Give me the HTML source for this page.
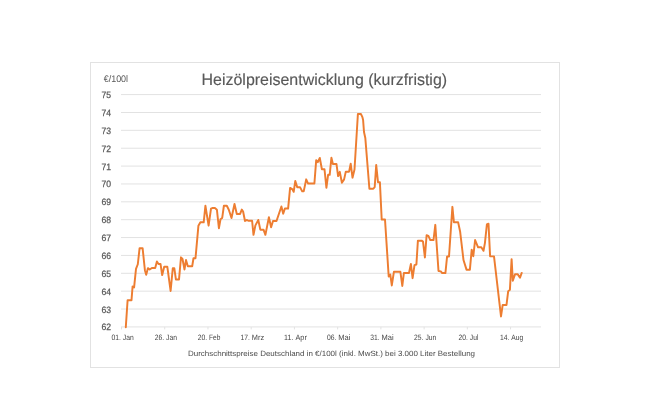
<!DOCTYPE html>
<html><head><meta charset="utf-8"><style>
html,body{margin:0;padding:0;background:#fff;width:650px;height:416px;overflow:hidden}
svg{display:block;filter:blur(0.35px)}
text{font-family:"Liberation Sans",sans-serif;fill:#595959;text-rendering:geometricPrecision}
.yl{font-size:9.2px;stroke:#595959;stroke-width:0.25px}
.xl{font-size:7.8px;fill:#454545}
</style></head><body>
<svg width="650" height="416" viewBox="0 0 650 416">
<rect x="90.5" y="62.5" width="469" height="305" fill="#fff" stroke="#e2e2e2" stroke-width="1"/>
<line x1="121" y1="94.60" x2="541" y2="94.60" stroke="#e2e2e2" stroke-width="1"/><line x1="121" y1="112.47" x2="541" y2="112.47" stroke="#e2e2e2" stroke-width="1"/><line x1="121" y1="130.34" x2="541" y2="130.34" stroke="#e2e2e2" stroke-width="1"/><line x1="121" y1="148.21" x2="541" y2="148.21" stroke="#e2e2e2" stroke-width="1"/><line x1="121" y1="166.08" x2="541" y2="166.08" stroke="#e2e2e2" stroke-width="1"/><line x1="121" y1="183.95" x2="541" y2="183.95" stroke="#e2e2e2" stroke-width="1"/><line x1="121" y1="201.82" x2="541" y2="201.82" stroke="#e2e2e2" stroke-width="1"/><line x1="121" y1="219.69" x2="541" y2="219.69" stroke="#e2e2e2" stroke-width="1"/><line x1="121" y1="237.56" x2="541" y2="237.56" stroke="#e2e2e2" stroke-width="1"/><line x1="121" y1="255.43" x2="541" y2="255.43" stroke="#e2e2e2" stroke-width="1"/><line x1="121" y1="273.30" x2="541" y2="273.30" stroke="#e2e2e2" stroke-width="1"/><line x1="121" y1="291.17" x2="541" y2="291.17" stroke="#e2e2e2" stroke-width="1"/><line x1="121" y1="309.04" x2="541" y2="309.04" stroke="#e2e2e2" stroke-width="1"/>
<line x1="121" y1="326.91" x2="541" y2="326.91" stroke="#e2e2e2" stroke-width="1"/>
<line x1="121.50" y1="326.91" x2="121.50" y2="329.41" stroke="#e2e2e2" stroke-width="1"/><line x1="164.73" y1="326.91" x2="164.73" y2="329.41" stroke="#e2e2e2" stroke-width="1"/><line x1="207.96" y1="326.91" x2="207.96" y2="329.41" stroke="#e2e2e2" stroke-width="1"/><line x1="251.19" y1="326.91" x2="251.19" y2="329.41" stroke="#e2e2e2" stroke-width="1"/><line x1="294.42" y1="326.91" x2="294.42" y2="329.41" stroke="#e2e2e2" stroke-width="1"/><line x1="337.65" y1="326.91" x2="337.65" y2="329.41" stroke="#e2e2e2" stroke-width="1"/><line x1="380.88" y1="326.91" x2="380.88" y2="329.41" stroke="#e2e2e2" stroke-width="1"/><line x1="424.11" y1="326.91" x2="424.11" y2="329.41" stroke="#e2e2e2" stroke-width="1"/><line x1="467.34" y1="326.91" x2="467.34" y2="329.41" stroke="#e2e2e2" stroke-width="1"/><line x1="510.57" y1="326.91" x2="510.57" y2="329.41" stroke="#e2e2e2" stroke-width="1"/>
<text x="201.6" y="85.1" font-size="16.2" stroke="#595959" stroke-width="0.15" textLength="245.5" lengthAdjust="spacingAndGlyphs">Heizölpreisentwicklung (kurzfristig)</text>
<text x="103.7" y="81.8" font-size="9.6" textLength="24.4" lengthAdjust="spacingAndGlyphs">€/100l</text>
<text x="101.4" y="98.10" textLength="9.6" lengthAdjust="spacingAndGlyphs" class="yl">75</text><text x="101.4" y="115.97" textLength="9.6" lengthAdjust="spacingAndGlyphs" class="yl">74</text><text x="101.4" y="133.84" textLength="9.6" lengthAdjust="spacingAndGlyphs" class="yl">73</text><text x="101.4" y="151.71" textLength="9.6" lengthAdjust="spacingAndGlyphs" class="yl">72</text><text x="101.4" y="169.58" textLength="9.6" lengthAdjust="spacingAndGlyphs" class="yl">71</text><text x="101.4" y="187.45" textLength="9.6" lengthAdjust="spacingAndGlyphs" class="yl">70</text><text x="101.4" y="205.32" textLength="9.6" lengthAdjust="spacingAndGlyphs" class="yl">69</text><text x="101.4" y="223.19" textLength="9.6" lengthAdjust="spacingAndGlyphs" class="yl">68</text><text x="101.4" y="241.06" textLength="9.6" lengthAdjust="spacingAndGlyphs" class="yl">67</text><text x="101.4" y="258.93" textLength="9.6" lengthAdjust="spacingAndGlyphs" class="yl">66</text><text x="101.4" y="276.80" textLength="9.6" lengthAdjust="spacingAndGlyphs" class="yl">65</text><text x="101.4" y="294.67" textLength="9.6" lengthAdjust="spacingAndGlyphs" class="yl">64</text><text x="101.4" y="312.54" textLength="9.6" lengthAdjust="spacingAndGlyphs" class="yl">63</text><text x="101.4" y="330.41" textLength="9.6" lengthAdjust="spacingAndGlyphs" class="yl">62</text>
<text x="111.40" y="339.6" textLength="9.4" lengthAdjust="spacingAndGlyphs" class="xl">01.</text><text x="122.80" y="339.6" textLength="10.9" lengthAdjust="spacingAndGlyphs" class="xl">Jan</text><text x="154.63" y="339.6" textLength="9.4" lengthAdjust="spacingAndGlyphs" class="xl">26.</text><text x="166.03" y="339.6" textLength="10.9" lengthAdjust="spacingAndGlyphs" class="xl">Jan</text><text x="197.66" y="339.6" textLength="9.4" lengthAdjust="spacingAndGlyphs" class="xl">20.</text><text x="209.06" y="339.6" textLength="11.3" lengthAdjust="spacingAndGlyphs" class="xl">Feb</text><text x="240.39" y="339.6" textLength="9.4" lengthAdjust="spacingAndGlyphs" class="xl">17.</text><text x="251.79" y="339.6" textLength="12.3" lengthAdjust="spacingAndGlyphs" class="xl">Mrz</text><text x="284.12" y="339.6" textLength="9.4" lengthAdjust="spacingAndGlyphs" class="xl">11.</text><text x="295.52" y="339.6" textLength="11.3" lengthAdjust="spacingAndGlyphs" class="xl">Apr</text><text x="326.95" y="339.6" textLength="9.4" lengthAdjust="spacingAndGlyphs" class="xl">06.</text><text x="338.35" y="339.6" textLength="12.1" lengthAdjust="spacingAndGlyphs" class="xl">Mai</text><text x="370.18" y="339.6" textLength="9.4" lengthAdjust="spacingAndGlyphs" class="xl">31.</text><text x="381.58" y="339.6" textLength="12.1" lengthAdjust="spacingAndGlyphs" class="xl">Mai</text><text x="414.01" y="339.6" textLength="9.4" lengthAdjust="spacingAndGlyphs" class="xl">25.</text><text x="425.41" y="339.6" textLength="10.9" lengthAdjust="spacingAndGlyphs" class="xl">Jun</text><text x="458.44" y="339.6" textLength="9.4" lengthAdjust="spacingAndGlyphs" class="xl">20.</text><text x="469.84" y="339.6" textLength="8.5" lengthAdjust="spacingAndGlyphs" class="xl">Jul</text><text x="499.97" y="339.6" textLength="9.4" lengthAdjust="spacingAndGlyphs" class="xl">14.</text><text x="511.37" y="339.6" textLength="11.9" lengthAdjust="spacingAndGlyphs" class="xl">Aug</text>
<text x="188" y="355.8" font-size="7.6" style="fill:#4a4a4a" textLength="287" lengthAdjust="spacingAndGlyphs">Durchschnittspreise Deutschland in €/100l (inkl. MwSt.) bei 3.000 Liter Bestellung</text>
<path d="M125.7 326.8 L127.5 299.8 L131.4 299.8 L132.5 286.0 L134.0 287.0 L135.9 268.4 L137.7 263.8 L139.5 247.7 L142.5 247.7 L144.8 269.7 L146.1 274.3 L147.8 267.7 L149.6 269.0 L151.8 267.5 L155.1 267.5 L156.8 261.1 L158.4 263.5 L160.4 263.5 L162.1 274.6 L164.1 266.2 L167.2 266.2 L170.5 290.5 L172.7 267.7 L174.2 267.7 L175.8 279.0 L178.9 279.0 L180.9 256.9 L182.4 258.5 L184.4 269.0 L185.9 259.6 L187.7 265.8 L192.1 265.8 L193.4 257.8 L195.4 257.8 L198.3 225.4 L200.3 221.9 L203.6 221.9 L205.3 205.3 L208.5 225.2 L210.9 208.2 L212.2 207.6 L214.8 207.6 L216.8 209.3 L218.8 227.8 L220.4 218.8 L222.1 217.5 L223.8 205.3 L226.7 205.3 L228.7 209.3 L231.4 217.5 L234.4 203.6 L236.7 213.5 L240.0 213.5 L241.7 209.1 L243.0 211.0 L244.9 220.6 L246.6 219.5 L248.2 220.3 L252.0 220.3 L253.4 234.4 L255.3 224.9 L258.2 219.5 L260.2 229.2 L263.4 229.2 L265.3 234.4 L268.8 216.8 L271.0 226.8 L272.9 220.6 L276.4 220.6 L281.3 206.0 L283.1 213.2 L284.8 208.1 L288.0 208.1 L290.0 187.5 L292.4 189.0 L293.6 191.4 L295.2 180.5 L297.1 186.7 L299.9 186.7 L302.1 190.9 L303.6 190.9 L306.1 178.9 L308.0 183.1 L314.3 183.1 L316.1 159.7 L317.7 161.7 L319.7 157.5 L321.8 168.8 L324.4 168.8 L326.3 187.3 L328.0 174.4 L329.6 174.4 L331.3 157.3 L332.8 163.6 L336.4 163.6 L338.0 175.6 L339.7 171.4 L341.8 182.3 L344.0 178.9 L345.7 171.2 L349.0 171.2 L350.6 163.3 L352.4 177.2 L354.4 169.0 L357.8 113.6 L360.8 113.6 L362.2 116.4 L363.0 119.6 L363.9 131.5 L365.2 137.5 L369.3 188.3 L373.2 188.3 L374.6 186.6 L376.1 164.5 L377.9 181.7 L379.8 181.7 L381.6 219.1 L384.9 219.1 L388.6 276.1 L390.2 274.1 L391.7 285.0 L393.8 271.4 L400.3 271.4 L402.2 285.5 L403.8 272.5 L408.9 272.5 L410.8 263.6 L412.5 277.7 L414.4 264.7 L416.3 264.1 L417.8 240.2 L421.5 240.2 L422.9 241.2 L424.8 257.0 L426.5 234.8 L428.3 235.4 L430.2 239.6 L433.4 239.6 L435.2 224.4 L438.4 270.5 L440.7 270.9 L442.1 272.6 L445.3 272.6 L447.0 256.0 L448.9 256.0 L452.3 206.4 L453.8 221.7 L458.0 221.7 L460.0 231.0 L463.4 259.6 L466.4 269.2 L469.8 269.2 L471.6 249.2 L473.2 255.8 L475.0 239.6 L478.0 246.8 L481.2 246.8 L483.4 250.4 L484.8 242.6 L486.8 224.0 L488.4 223.2 L490.0 255.8 L493.9 255.9 L500.9 316.0 L502.6 304.5 L506.4 304.5 L508.1 290.7 L509.8 289.4 L511.5 258.7 L512.7 280.3 L514.9 273.9 L517.7 273.9 L519.9 277.3 L521.6 272.5" fill="none" stroke="#ed7d31" stroke-width="1.95" transform="translate(0.1 0.45)" stroke-linejoin="round" stroke-linecap="round"/>
</svg>
</body></html>
